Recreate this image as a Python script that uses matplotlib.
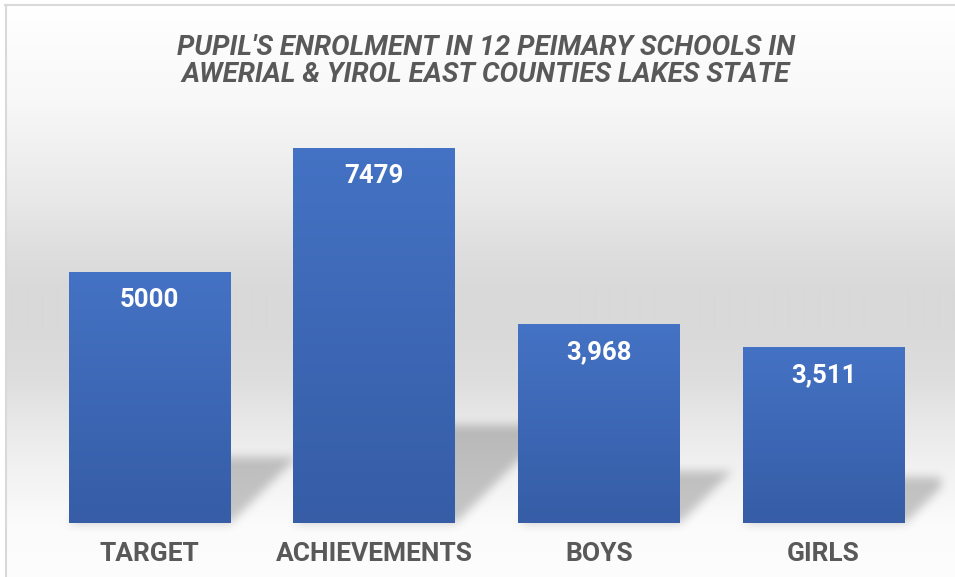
import numpy as np
import matplotlib.pyplot as plt

plt.rcParams['font.family'] = ['Roboto', 'DejaVu Sans']

categories = ["TARGET", "ACHIEVEMENTS", "BOYS", "GIRLS"]
values = [5000, 7479, 3968, 3511]
value_labels = ["5000", "7479", "3,968", "3,511"]
title_lines = ["PUPIL'S ENROLMENT IN 12 PEIMARY SCHOOLS IN",
               "AWERIAL & YIROL EAST COUNTIES LAKES STATE"]

W, H = 955, 577
fig = plt.figure(figsize=(W / 100, H / 100), dpi=100)

# background axes in pixel units (origin bottom-left)
bg = fig.add_axes([0, 0, 1, 1], zorder=0)
bg.set_xlim(0, W)
bg.set_ylim(0, H)
bg.axis('off')

ax = fig.add_axes([37.2 / W, 54 / H, 898.7 / W, 401.1 / H], zorder=1)
ax.patch.set_alpha(0)
ax.set_xlim(-0.5, 3.5)
ax.set_ylim(0, 8000)

# vertical grey gradient of the chart area (rows from image top)
stops_y = [5, 100, 150, 200, 250, 290, 330, 380, 430, 470, 500, 523, 577]
stops_g = [255, 248, 240, 232, 222, 217, 217, 222, 234, 242, 247, 251, 253]
rows_top = np.arange(H)
grey = np.interp(rows_top, stops_y, stops_g) / 255.0
grey[rows_top < 5] = 1.0
img = np.repeat(grey[:, None], W, axis=1)
img[:, :5] = 1.0
img = img[::-1].copy()  # now row 0 = bottom

# perspective shadows behind the bars
bw = 0.72
shadow = np.zeros((H, W))
xx = np.arange(W)
right_clip = ax.transAxes.transform((1, 0))[0] + 4
for i, v in enumerate(values):
    xl, yb = ax.transData.transform((i - bw / 2, 0))
    xr, yt = ax.transData.transform((i + bw / 2, v))
    hs = 0.26 * (yt - yb)
    for r in range(int(yb), int(yb + hs) + 1):
        t = r - yb
        if t < 0:
            continue
        row = (xx >= xl + t) & (xx <= xr + t) & (xx <= right_clip)
        shadow[r, row] = 0.21

k = np.ones(11) / 11
for _ in range(2):
    shadow = np.apply_along_axis(lambda a: np.convolve(a, k, mode='same'), 0, shadow)
    shadow = np.apply_along_axis(lambda a: np.convolve(a, k, mode='same'), 1, shadow)
img = img * (1 - shadow)

bg.imshow(np.dstack([img, img, img]), extent=(0, W, 0, H), origin='lower',
          aspect='auto', interpolation='bilinear')
bg.plot([5, W], [H - 5, H - 5], color='#d9d9d9', lw=1.5)
bg.plot([6, 6], [0, H - 5], color='#d9d9d9', lw=1.5)

# bars with vertical gradient fill
top_c = np.array([68, 114, 196]) / 255
bot_c = np.array([54, 93, 166]) / 255
grad = np.linspace(0, 1, 256)[:, None, None]
grad_img = bot_c[None, None, :] * (1 - grad) + top_c[None, None, :] * grad

bars = ax.bar(range(len(values)), values, width=bw, color=top_c, edgecolor='none')
for i, (b, v) in enumerate(zip(bars, values)):
    im = ax.imshow(grad_img, extent=(i - bw / 2, i + bw / 2, 0, v), origin='lower',
                   aspect='auto', zorder=2)
    im.set_clip_path(b)
    ax.annotate(value_labels[i], (i, v), xytext=(0, -20), textcoords='offset points',
                ha='center', va='center', color='white', fontsize=18.5,
                fontweight='bold', zorder=3)

ax.set_xlim(-0.5, 3.5)
ax.set_ylim(0, 8000)
ax.set_xticks(range(len(categories)), categories)
ax.tick_params(axis='x', length=0, pad=13.5, labelsize=19, labelcolor='#595959')
for lbl in ax.get_xticklabels():
    lbl.set_fontweight('bold')
ax.set_yticks([])
for s in ax.spines.values():
    s.set_visible(False)

for j, line in enumerate(title_lines):
    fig.text(486 / W, 1 - (55 + 27 * j) / H, line, ha='center', va='baseline',
             fontsize=20, fontweight='bold', fontstyle='italic', color='#595959')

fig.savefig('out.png', dpi=100)
